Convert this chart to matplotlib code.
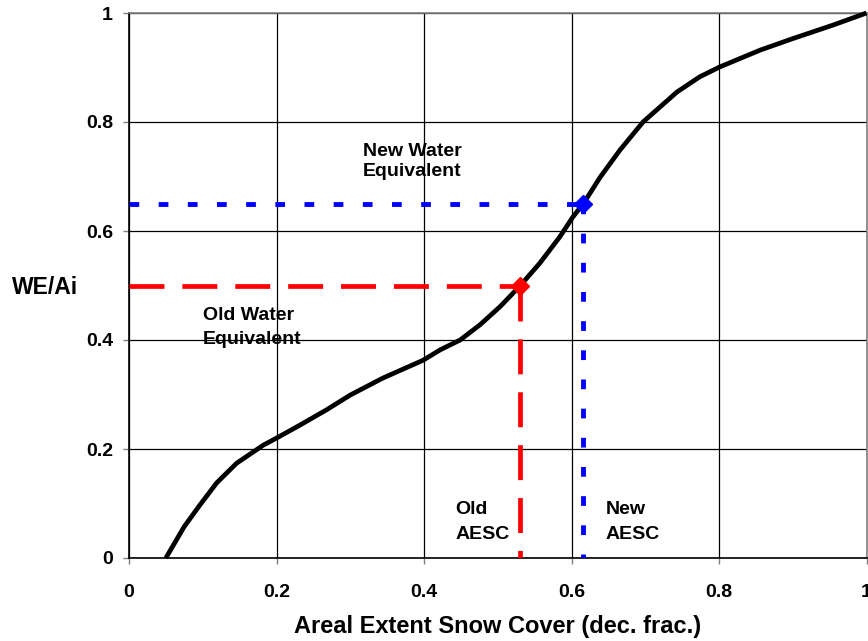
import matplotlib
matplotlib.use("Agg")
import matplotlib.pyplot as plt

curve_x = [0.05, 0.0746, 0.096, 0.119, 0.146, 0.182, 0.200, 0.232, 0.268, 0.300, 0.344, 0.399, 0.422, 0.449, 0.476, 0.503, 0.530, 0.557, 0.584, 0.602, 0.616, 0.639, 0.666, 0.697, 0.743, 0.774, 0.801, 0.856, 0.900, 0.955, 1.000]
curve_y = [0.0, 0.057, 0.097, 0.138, 0.174, 0.207, 0.220, 0.244, 0.272, 0.299, 0.330, 0.363, 0.382, 0.400, 0.428, 0.461, 0.499, 0.541, 0.589, 0.626, 0.650, 0.699, 0.749, 0.800, 0.855, 0.883, 0.901, 0.932, 0.953, 0.978, 1.000]

old_x, old_y = 0.53, 0.50
new_x, new_y = 0.616, 0.65

x_ticks = [0, 0.2, 0.4, 0.6, 0.8, 1]
y_ticks = [0, 0.2, 0.4, 0.6, 0.8, 1]
tick_labels = ["0", "0.2", "0.4", "0.6", "0.8", "1"]

# annotation text lines: (text, x, baseline y) in data units
annotations = [
    ("New Water", 0.317, 0.738),
    ("Equivalent", 0.317, 0.701),
    ("Old Water", 0.100, 0.437),
    ("Equivalent", 0.100, 0.393),
    ("Old", 0.443, 0.081),
    ("AESC", 0.443, 0.035),
    ("New", 0.646, 0.081),
    ("AESC", 0.646, 0.035),
]

plt.rcParams['font.family'] = ['Liberation Sans', 'DejaVu Sans']

fig = plt.figure(figsize=(8.68, 6.41), dpi=100)
ax = fig.add_axes([129/868, 1-558/641, 737.5/868, 545/641])
ax.set_xlim(0, 1)
ax.set_ylim(0, 1)

ax.grid(True, color='black', linewidth=0.9)
ax.set_axisbelow(True)

# reference lines
ax.plot([0, old_x], [old_y, old_y], color='#ff0000', lw=3.4, dashes=(7.4, 3.8), zorder=3)
ax.plot([old_x, old_x], [old_y, 0], color='#ff0000', lw=3.4, dashes=(7.4, 3.8), zorder=3)
ax.plot([0, new_x], [new_y, new_y], color='#0000ff', lw=3.5, dashes=(2.0, 4.0), zorder=3)
ax.plot([new_x, new_x], [new_y, 0], color='#0000ff', lw=3.5, dashes=(2.0, 4.0), zorder=3)

ax.plot(curve_x, curve_y, color='black', lw=3.4, zorder=4, clip_on=False,
        solid_capstyle='butt', solid_joinstyle='round')

ax.plot([old_x], [old_y], marker='D', color='#ff0000', ms=9.5, zorder=5, mec='#ff0000')
ax.plot([new_x], [new_y], marker='D', color='#0000ff', ms=9.5, zorder=5, mec='#0000ff')

ax.set_xticks(x_ticks)
ax.set_yticks(y_ticks)
ax.set_xticklabels(tick_labels, fontsize=14, fontweight='bold')
ax.set_yticklabels(tick_labels, fontsize=14, fontweight='bold')
ax.tick_params(axis='both', direction='out', length=4.5, width=1, color='#808080')
ax.tick_params(axis='x', pad=14)
ax.tick_params(axis='y', pad=7)

for s in ['top', 'right']:
    ax.spines[s].set_color('#808080')
for s in ['left', 'bottom']:
    ax.spines[s].set_color('black')
for s in ax.spines.values():
    s.set_linewidth(1.2)

for txt, tx, ty in annotations:
    ax.text(tx, ty, txt, fontsize=14, fontweight='bold', va='baseline', ha='left')

fig.text(45/868, 1-294/641, "WE/Ai", fontsize=16.5, fontweight='bold', ha='center', va='baseline')
fig.text(498/868, 1-626/641, "Areal Extent Snow Cover (dec. frac.)", fontsize=17, fontweight='bold', ha='center', va='center')

fig.savefig("out.png", dpi=100)
